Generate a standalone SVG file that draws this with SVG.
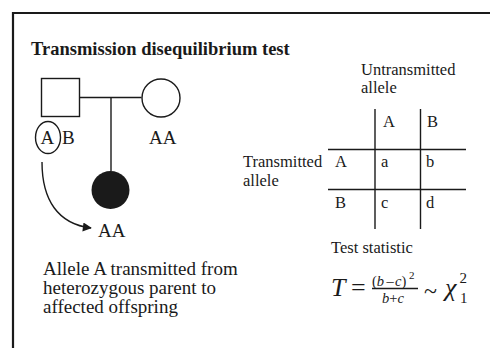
<svg xmlns="http://www.w3.org/2000/svg" width="490" height="348" viewBox="0 0 490 348">
<style>
.t{font-family:"Liberation Serif","Times New Roman",serif;fill:#1a1a1a}
.s{stroke:#1a1a1a;fill:none;stroke-width:1.4}
.i{font-style:italic}
</style>
<defs>
<marker id="ah" viewBox="0 0 10 10" refX="9" refY="5" markerWidth="13" markerHeight="9" markerUnits="userSpaceOnUse" orient="auto">
<path d="M0 0 L10 5 L0 10 Z" fill="#1a1a1a"/>
</marker>
</defs>
<rect width="490" height="348" fill="#fff"/>
<g id="frame" stroke="#1a1a1a" stroke-width="2.2" fill="none">
<path d="M13 348 V13 H490"/>
</g>
<text class="t" x="31" y="55" font-size="18.5" font-weight="bold">Transmission disequilibrium test</text>
<g id="connectors">
<path class="s" d="M79.5 97.5 H141.5"/>
<path class="s" d="M111 97.5 V171"/>
<path class="s" d="M42 162 C42 200 58 224 91 228" marker-end="url(#ah)"/>
</g>
<g id="father">
<rect class="s" x="41.5" y="78.5" width="38" height="38"/>
<ellipse class="s" cx="48" cy="137.5" rx="12.5" ry="16"/>
<text class="t" x="40.5" y="144" font-size="19">A</text>
<text class="t" x="62" y="144" font-size="19">B</text>
</g>
<g id="mother">
<circle class="s" cx="161" cy="98" r="19"/>
<text class="t" x="149" y="144" font-size="19">AA</text>
</g>
<g id="child">
<circle cx="110.5" cy="190" r="19" fill="#1a1a1a"/>
<text class="t" x="98" y="237" font-size="19">AA</text>
</g>
<g id="caption" class="t" font-size="19">
<text x="43" y="275">Allele A transmitted from</text>
<text x="43" y="294">heterozygous parent to</text>
<text x="43" y="313">affected offspring</text>
</g>
<g id="table">
<g class="t" font-size="16.5">
<text x="361" y="75">Untransmitted</text>
<text x="361" y="93">allele</text>
<text x="383" y="127">A</text>
<text x="427" y="127">B</text>
<text x="243" y="167">Transmitted</text>
<text x="243" y="186">allele</text>
<text x="335" y="167">A</text>
<text x="381" y="167">a</text>
<text x="426" y="167">b</text>
<text x="335" y="208">B</text>
<text x="381" y="208">c</text>
<text x="426" y="208">d</text>
</g>
<path class="s" d="M375 109 V229 M420.5 109 V229"/>
<path class="s" stroke-width="1.8" d="M328 149.5 H466 M328 189.5 H466"/>
</g>
<g id="statistic">
<text class="t" x="331" y="253" font-size="16.5">Test statistic</text>
<text class="t i" x="331" y="296" font-size="26">T</text>
<text class="t" x="351" y="296" font-size="26">=</text>
<text class="t" y="285.5" font-size="14.5"><tspan x="372">(</tspan><tspan class="i">b</tspan><tspan x="386.5">–</tspan><tspan x="395" class="i">c</tspan><tspan>)</tspan></text>
<text class="t" x="409" y="278.5" font-size="11">2</text>
<path class="s" stroke-width="1" d="M372 288.5 H418"/>
<text class="t" y="303" font-size="14.5"><tspan x="382" class="i">b</tspan><tspan>+</tspan><tspan class="i">c</tspan></text>
<text class="t" x="424" y="299" font-size="24">~</text>
<text class="t i" x="445" y="296" font-size="26">χ</text>
<text class="t" x="460" y="303" font-size="15">1</text>
<text class="t" x="459.5" y="283" font-size="15">2</text>
</g>
</svg>
